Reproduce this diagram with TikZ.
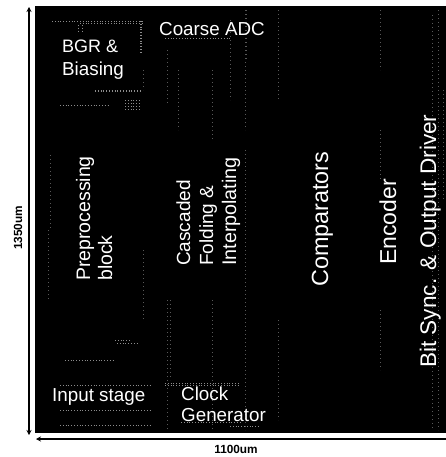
\documentclass[tikz,border=0pt]{standalone}
\usepackage{fontspec}
\setmainfont{Liberation Sans}
\usetikzlibrary{arrows.meta}
\tikzset{
  x=1pt,y=-1pt,
  chip/.style={fill=black,draw=none},
  dimline/.style={draw=black,line width=1.3pt},
  dimtext/.style={font=\fontsize{11.8}{13}\selectfont\bfseries,text=black,inner sep=0pt},
  lab/.style={font=\fontsize{18.8}{20}\selectfont,text=white,inner sep=0pt,anchor=base west},
  vlab/.style={font=\fontsize{19.5}{20}\selectfont,text=white,inner sep=0pt,anchor=base west,rotate=90},
  speck/.style={draw=white!55!black,line width=0.7pt,dash pattern=on 0.8pt off 2pt},
  speckfaint/.style={draw=white!35!black,line width=0.6pt,dash pattern=on 0.8pt off 3.2pt},
}
\begin{document}
\begin{tikzpicture}
\useasboundingbox (0,0) rectangle (446,457);
\fill[white] (0,0) rectangle (446,457);
\fill[chip] (35,6) rectangle (446,433);
% layout texture
\foreach \xa/\ya/\yb in {245/10/130,245/150/430,246/10/60,167/50/105,167/300/430,178/70/130,212/70/140,212/300/430,230/20/100,278/10/100,278/320/420,380/10/70,380/130/180,380/310/370,432/15/430,438/10/430,443/90/200,143/70/90,143/250/320,50/155/230,48/230/300,170/300/380}
  \draw[speckfaint] (\xa,\ya) -- (\xa,\yb);
\foreach \xa/\xb/\ya in {52/142/21,80/142/23,95/140/90,95/140/91,125/140/100,125/140/103,125/140/106,125/140/109,60/110/105,165/230/38,115/130/340,117/137/343,65/115/360,165/240/383,165/240/385,60/150/385,60/150/410,60/150/425,181/240/422,230/260/426}
  \draw[speck] (\xa,\ya) -- (\xb,\ya);
\foreach \xa/\ya/\yb in {141/21/52,140/21/52,78/25/32,82/25/32}
  \draw[speck] (\xa,\ya) -- (\xa,\yb);
% dimension lines
\coordinate (vt) at (29,7); \coordinate (vb) at (29,435);
\coordinate (hl) at (36,439); \coordinate (hr) at (446,439);
\draw[dimline,{Stealth[length=5pt,width=5pt]}-{Stealth[length=5pt,width=5pt]}] (vt) -- (vb);
\draw[dimline,{Stealth[length=5pt,width=5pt]}-] (hl) -- (hr);
\node[dimtext,rotate=90] (h) at (18,228) {1350um};
\node[dimtext] (w) at (236,449) {1100um};
% labels
\node[lab,font=\fontsize{18}{20}\selectfont] (bgr) at (62,53) {BGR \&};
\node[lab] (bias) at (62,76) {Biasing};
\node[lab] (coarse) at (159,36) {Coarse ADC};
\node[lab] (input) at (52,401) {Input stage};
\node[lab] (clock) at (181,400) {Clock};
\node[lab] (gen) at (181,421) {Generator};
\node[vlab] (pre) at (90,281) {Preprocessing};
\node[vlab] (blk) at (112,281) {block};
\node[vlab,font=\fontsize{19}{20}\selectfont] (cas) at (190,266) {Cascaded};
\node[vlab,font=\fontsize{19}{20}\selectfont] (fold) at (213,266) {Folding \&};
\node[vlab,font=\fontsize{19.7}{20}\selectfont] (int) at (236,266) {Interpolating};
\node[vlab,font=\fontsize{23.4}{25}\selectfont] (comp) at (328,287) {Comparators};
\node[vlab,font=\fontsize{23}{25}\selectfont] (enc) at (396,265) {Encoder};
\node[vlab,font=\fontsize{22.6}{25}\selectfont] (bit) at (436,368) {Bit Sync. \& Output Driver};
\end{tikzpicture}
\end{document}
